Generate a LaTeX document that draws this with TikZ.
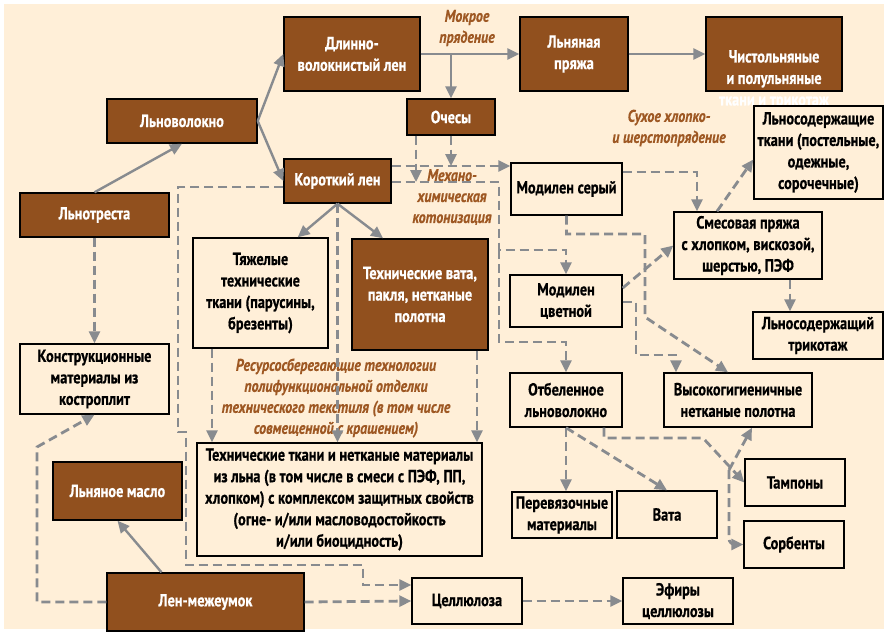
\documentclass[tikz,border=0pt]{standalone}
\usepackage{fontspec}
\setmainfont{PT Sans}[FakeStretch=0.82, BoldFeatures={FakeBold=0.6}, BoldItalicFeatures={FakeBold=0.3}]
\usetikzlibrary{arrows.meta}
\definecolor{flaxbrown}{RGB}{145,80,30}
\definecolor{flaxcream}{RGB}{255,239,216}
\definecolor{linkgray}{RGB}{136,139,143}
\definecolor{notebrown}{RGB}{158,88,35}

\begin{document}
\begin{tikzpicture}[x=1pt, y=-1pt,
  box/.style={draw=black, line width=1.4pt, align=center, inner sep=0pt,
    font=\fontsize{17.5}{21.5}\selectfont\bfseries},
  brownbox/.style={box, fill=flaxbrown, text=white},
  creambox/.style={box, fill=flaxcream, text=black},
  note/.style={align=center, text=notebrown, font=\fontsize{17}{21}\selectfont\bfseries\itshape},
  solidlink/.style={draw=linkgray, line width=2.4pt, -{Triangle[length=12pt, width=11pt]}},
  dashlink/.style={solidlink, line width=2.8pt, dash pattern=on 9pt off 5pt}]
  \useasboundingbox (0,0) rectangle (884,635);
  \fill[flaxcream] (4,4) rectangle (884,629);

  \node[brownbox, minimum width=149pt, minimum height=44pt] (treste) at (94.5,215) {Льнотреста};
  \node[brownbox, minimum width=150pt, minimum height=44pt] (fibre) at (182,121) {Льноволокно};
  \node[brownbox, minimum width=136pt, minimum height=74pt] (longflax) at (352,54) {Длинно-\\волокнистый лен};
  \node[brownbox, minimum width=107pt, minimum height=44pt] (shortflax) at (337.5,181) {Короткий лен};
  \node[brownbox, minimum width=88pt, minimum height=36pt] (tow) at (451,117) {Очесы};
  \node[brownbox, minimum width=108pt, minimum height=74pt] (yarn) at (574,54) {Льняная\\пряжа};
  \node[brownbox, minimum width=136pt, minimum height=74pt] (purelinen) at (774,54)
    {\smash{\raisebox{-30pt}{\begin{tabular}{@{}c@{}}Чистольняные\\и полульняные\\ткани и трикотаж\end{tabular}}}};
  \node[creambox, minimum width=129pt, minimum height=93pt] (blendfabric) at (818.5,152.5) {Льносодержащие\\ткани (постельные,\\одежные,\\сорочечные)};
  \node[creambox, minimum width=111pt, minimum height=52pt] (greymod) at (566.5,189) {Модилен серый};
  \node[creambox, minimum width=148pt, minimum height=67pt] (blendyarn) at (748,245.5) {Смесовая пряжа\\с хлопком, вискозой,\\шерстью, ПЭФ};
  \node[creambox, minimum width=112pt, minimum height=52pt] (colourmod) at (566,301) {Модилен\\цветной};
  \node[creambox, minimum width=130pt, minimum height=47pt] (knit) at (818,335.5) {Льносодержащий\\трикотаж};
  \node[creambox, minimum width=112pt, minimum height=54pt] (bleached) at (566,400) {Отбеленное\\льноволокно};
  \node[creambox, minimum width=148pt, minimum height=54pt] (hygienic) at (738,400) {Высокогигиеничные\\нетканые полотна};
  \node[creambox, minimum width=135pt, minimum height=110pt] (heavy) at (260.5,293) {Тяжелые\\технические\\ткани (парусины,\\брезенты)};
  \node[brownbox, minimum width=136pt, minimum height=111pt] (techwool) at (420,294.5) {Технические вата,\\пакля, нетканые\\полотна};
  \node[creambox, minimum width=149pt, minimum height=70pt] (boards) at (94.5,379) {Конструкционные\\материалы из\\костроплит};
  \node[creambox, minimum width=285pt, minimum height=113pt] (protective) at (339.5,499.5) {Технические ткани и нетканые материалы\\из льна (в том числе в смеси с ПЭФ, ПП,\\хлопком) с комплексом защитных свойств\\(огне- и/или масловодостойкость\\и/или биоцидность)};
  \node[brownbox, minimum width=129pt, minimum height=58pt] (oil) at (117.5,491) {Льняное масло};
  \node[brownbox, minimum width=197pt, minimum height=58pt] (mezheumok) at (205.5,602) {Лен-межеумок};
  \node[creambox, minimum width=110pt, minimum height=46pt] (cellulose) at (467,601) {Целлюлоза};
  \node[creambox, minimum width=110pt, minimum height=46pt] (ethers) at (678,601) {Эфиры\\целлюлозы};
  \node[creambox, minimum width=100pt, minimum height=46pt] (dressing) at (562,515) {Перевязочные\\материалы};
  \node[creambox, minimum width=100pt, minimum height=47pt] (wadding) at (667,514.5) {Вата};
  \node[creambox, minimum width=100pt, minimum height=47pt] (tampons) at (795,482.5) {Тампоны};
  \node[creambox, minimum width=100pt, minimum height=47pt] (sorbents) at (794,544.5) {Сорбенты};

  \node[note] (wetspin) at (467,28) {Мокрое\\прядение};
  \node[note] (dryspin) at (669,128) {Сухое хлопко-\\и шерстопрядение};
  \node[note] (cottonize) at (452,197) {Механо-\\химическая\\котонизация};
  \node[note] (finishing) at (336,398) {Ресурсосберегающие технологии\\полифункциональной отделки\\технического текстиля (в том числе\\совмещенной с крашением)};

  \coordinate (upline) at ([yshift=15pt]shortflax.east);
  \coordinate (lowline) at ([yshift=-1pt]shortflax.east);
  \coordinate (wetfork) at (tow.north |- longflax.east);
  \coordinate (sorbfork) at (729,470);

  \draw[solidlink] (treste.north) -- (fibre.south);
  \draw[solidlink] (fibre.east) -- (longflax.west);
  \draw[solidlink] (fibre.east) -- (shortflax.west);
  \draw[solidlink] (longflax.east) -- (yarn.west);
  \draw[solidlink] (wetfork) -- (tow.north);
  \draw[solidlink] (yarn.east) -- (purelinen.west);
  \draw[solidlink] (shortflax.south) -- ([xshift=-31pt]heavy.north east);
  \draw[solidlink] (shortflax.south) -- ([xshift=-37pt]techwool.north);
  \draw[solidlink] ([xshift=-44pt]mezheumok.north) -- (oil.south);

  \draw[dashlink] (treste.south) -- (boards.north);
  \draw[dashlink] (mezheumok.west) -| (37,447) -- (boards.south);
  \draw[dashlink] (mezheumok.east) -- (cellulose.west);
  \draw[dashlink] ([yshift=-6pt]shortflax.west) -- (178,187) -- (178,432) -- (186,432) -- (186,565) -- (363,565) -- (363,585) -- (cellulose.west |- 0,585);
  \draw[dashlink] (shortflax.south) -- (shortflax.south |- protective.north);
  \draw[dashlink] ([xshift=-48.5pt]heavy.south) -- ([xshift=-48.5pt]heavy.south |- protective.north);
  \draw[dashlink] ([xshift=57pt]techwool.south) -- ([xshift=57pt]techwool.south |- protective.north);
  \draw[dashlink] (upline) -- (upline -| greymod.west);
  \draw[dashlink] (lowline) -- (499,182) -- (499,250) -| (colourmod.north);
  \draw[dashlink] (499,250) -- (499,342) -| (bleached.north);
  \draw[dashlink] ([xshift=-35pt]tow.south) -- ([xshift=-35pt]tow.south |- lowline);
  \draw[dashlink] (tow.south) -- (tow.south |- upline);
  \draw[dashlink] ([yshift=17pt]greymod.east) -| ([xshift=-51pt]blendyarn.north);
  \draw[dashlink] (greymod.south) |- (645,234) -- (645,317) -- ([xshift=-10pt]hygienic.north);
  \draw[dashlink] ([yshift=13pt]colourmod.east) -- (blendyarn.west);
  \draw[dashlink] ([yshift=-1pt]colourmod.east) -- (636,302) -- (636,355) -| ([xshift=-62pt]hygienic.north);
  \draw[dashlink] ([xshift=-31pt]blendyarn.north) -- ([yshift=-7pt]blendfabric.west);
  \draw[dashlink] ([xshift=42pt]blendyarn.south) -- ([xshift=42pt]blendyarn.south |- knit.north);
  \draw[dashlink] (bleached.south) -- (bleached.south |- dressing.north);
  \draw[dashlink] (bleached.south) -- (wadding.north);
  \draw[dashlink] ([xshift=38pt]bleached.south) |- (703,438) -- (tampons.west);
  \draw[dashlink] (sorbfork) -- ([xshift=14pt]hygienic.south);
  \draw[dashlink, rounded corners=6pt] (sorbfork) |- (sorbents.west);
  \draw[dashlink] (cellulose.east) -- (ethers.west);
\end{tikzpicture}
\end{document}
